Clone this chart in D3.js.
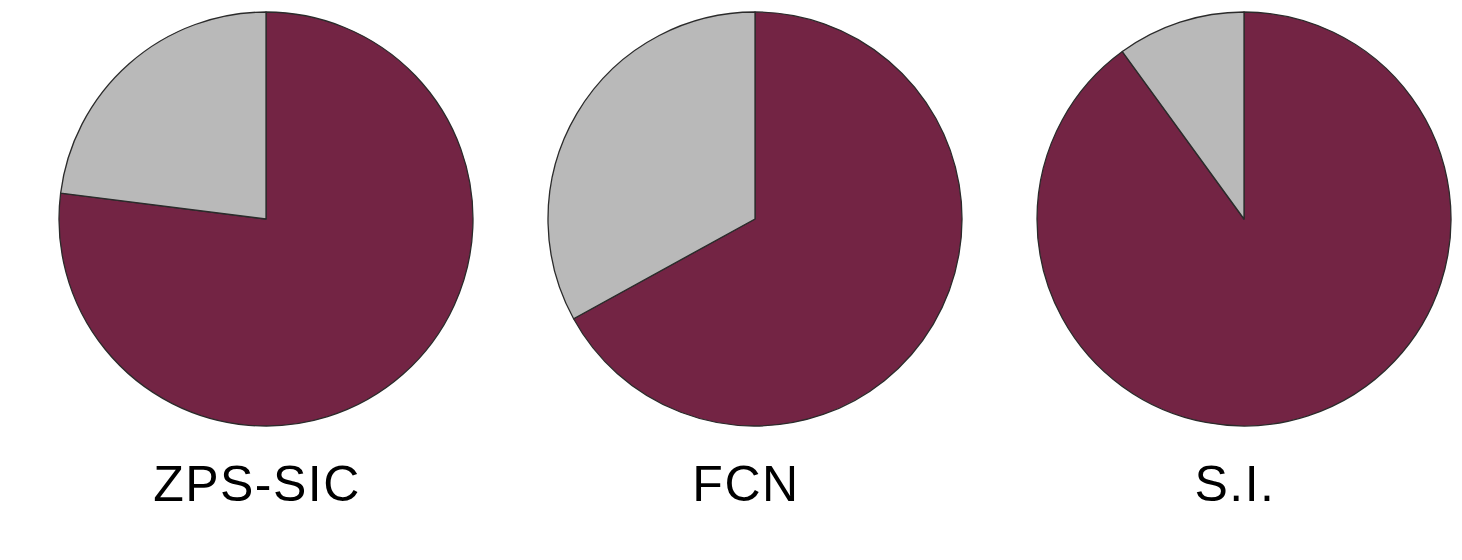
<!DOCTYPE html>
<html>
<head>
<meta charset="utf-8">
<script src="https://cdn.jsdelivr.net/npm/d3@7"></script>
<style>
  body { margin: 0; background: #fff; }
</style>
</head>
<body>
<div id="chart-area"></div>
<script>
// data
var categories = ["ZPS-SIC", "FCN", "S.I."];
var mainShare = [77, 67, 90];
var otherShare = [23, 33, 10];
var sliceColors = ["#732444", "#b9b9b9"];

var width = 1462, height = 560;
var radius = 207, cy = 219;

var svg = d3.select("#chart-area")
    .append("svg")
    .attr("width", width)
    .attr("height", height);

var x = d3.scalePoint()
    .domain(categories)
    .range([266, 1244]);

var pie = d3.pie().sort(null).value(function(d) { return d; });
var arc = d3.arc().innerRadius(0).outerRadius(radius);

categories.forEach(function(cat, i) {
    var g = svg.append("g")
        .attr("transform", "translate(" + x(cat) + "," + cy + ")");

    g.selectAll("path")
        .data(pie([mainShare[i], otherShare[i]]))
        .enter().append("path")
        .attr("d", arc)
        .attr("fill", function(d, j) { return sliceColors[j]; })
        .attr("stroke", "#2b2b2b")
        .attr("stroke-width", 1.3)
        .attr("stroke-linejoin", "round");

    // label under pie
    svg.append("text")
        .attr("x", x(cat) - 9)
        .attr("y", 501)
        .attr("text-anchor", "middle")
        .style("font-family", "'Liberation Sans', Arial, sans-serif")
        .style("font-size", "50px")
        .style("letter-spacing", "1.5px")
        .attr("fill", "#000")
        .text(cat);
});
</script>
</body>
</html>
